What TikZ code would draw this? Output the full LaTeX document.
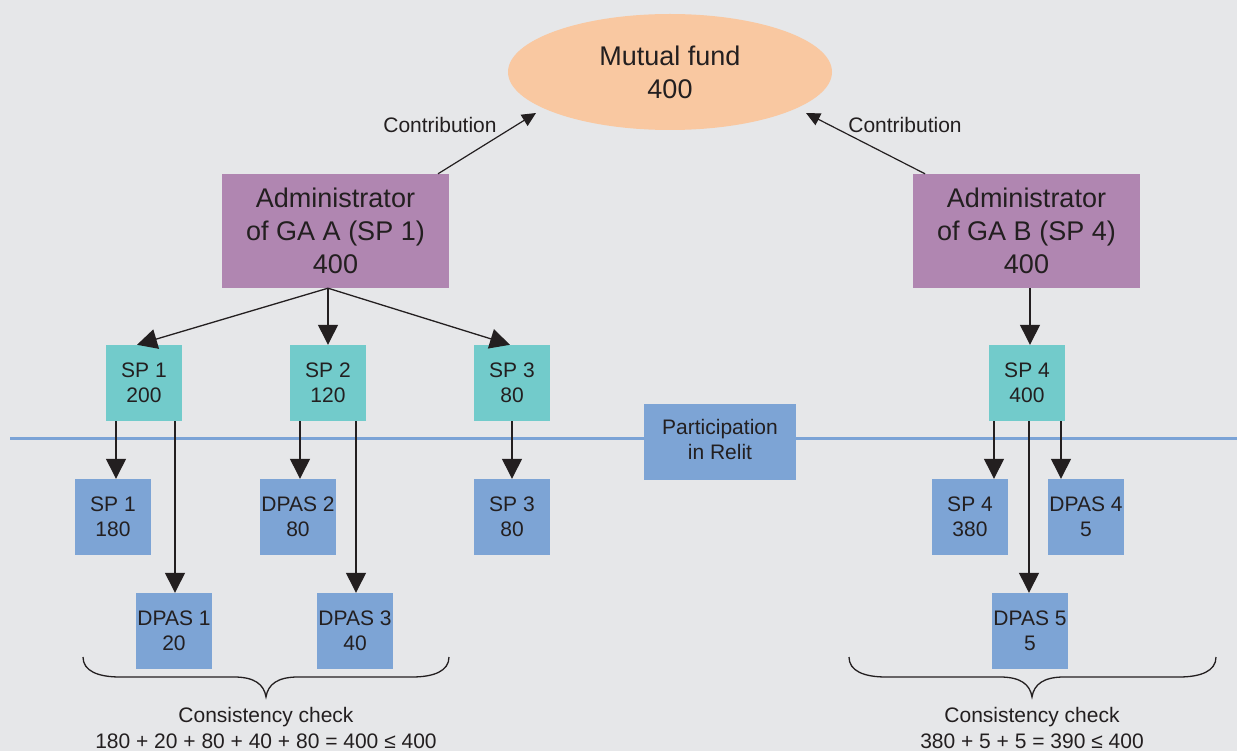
\documentclass[tikz,border=0pt]{standalone}
\usepackage{fontspec}
\setmainfont{Liberation Sans}
\usetikzlibrary{shapes.geometric,arrows.meta,calc}
\definecolor{bg}{HTML}{E6E7E9}
\definecolor{txt}{HTML}{231F20}
\definecolor{peach}{HTML}{F9C8A1}
\definecolor{mauve}{HTML}{B086B1}
\definecolor{tealc}{HTML}{72CBCB}
\definecolor{blueb}{HTML}{7DA4D5}
\definecolor{bline}{HTML}{7BA3D6}
\begin{document}
\begin{tikzpicture}[x=1pt,y=-1pt,
  base/.style={rectangle, inner sep=0pt, align=center, text=txt},
  bigf/.style={font=\fontsize{27}{33}\selectfont},
  smallf/.style={font=\fontsize{21}{25}\selectfont},
  admin/.style={base, bigf, fill=mauve, minimum width=227pt, minimum height=114pt},
  tealbox/.style={base, smallf, fill=tealc, minimum width=76pt, minimum height=76pt},
  bluebox/.style={base, smallf, fill=blueb, minimum width=76pt, minimum height=76pt},
  arr/.style={draw=txt, line width=1.3pt, -{Triangle[length=20pt,width=20pt]}},
  carr/.style={draw=txt, line width=1.2pt, -{Triangle[length=14pt,width=13pt]}},
  lbl/.style={text=txt, font=\fontsize{21}{25}\selectfont, inner sep=0pt},
  chk/.style={text=txt, font=\fontsize{21}{26}\selectfont, inner sep=0pt, align=center},
  brace/.style={draw=txt, line width=1.3pt}
]
\fill[bg] (0,0) rectangle (1237,751);
\useasboundingbox (0,0) rectangle (1237,751);

% separation line
\draw[bline, line width=2.5pt] (10,438.5) -- (1237,438.5);

% top
\node[ellipse, fill=peach, minimum width=324pt, minimum height=116pt, inner sep=0pt,
      align=center, text=txt, bigf] (mf) at (670,72) {Mutual fund\\400};

\node[admin] (adA) at (335.5,231) {Administrator\\of GA A (SP 1)\\400};
\node[admin] (adB) at (1026.5,231) {Administrator\\of GA B (SP 4)\\400};

\coordinate (cA) at (536,113);
\coordinate (cB) at (806,113);
\draw[carr] ($(adA.north)+(102.5,0)$) -- (cA);
\draw[carr] ($(adB.north)+(-101.5,0)$) -- (cB);
\node[lbl] (lA) at (440,125) {Contribution};
\node[lbl] (lB) at (905,125) {Contribution};

% teal boxes
\node[tealbox] (sp1) at (144,383) {SP 1\\200};
\node[tealbox] (sp2) at (328,383) {SP 2\\120};
\node[tealbox] (sp3) at (512,383) {SP 3\\80};
\node[tealbox] (sp4) at (1027,383) {SP 4\\400};

\node[bluebox, minimum width=152pt] (rel) at (720,442) {\raisebox{1.5pt}{\begin{tabular}{@{}c@{}}Participation\\in Relit\end{tabular}}};

% lower boxes
\node[bluebox] (sp1b) at (113,517) {SP 1\\180};
\node[bluebox] (dp2) at (298,517) {DPAS 2\\80};
\node[bluebox] (sp3b) at (512,517) {SP 3\\80};
\node[bluebox] (sp4b) at (970,517) {SP 4\\380};
\node[bluebox] (dp4) at (1086,517) {DPAS 4\\5};
\node[bluebox] (dp1) at (174,631) {DPAS 1\\20};
\node[bluebox] (dp3) at (355,631) {DPAS 3\\40};
\node[bluebox] (dp5) at (1030,631) {DPAS 5\\5};

% arrows from administrators
\coordinate (oA) at ($(adA.south)+(-7.5,0)$);
\coordinate (oB) at ($(adB.south)+(3.5,0)$);
\draw[arr] (oA) -- ($(sp1.north)+(-7,0)$);
\draw[arr] (oA) -- (sp2.north);
\draw[arr] (oA) -- ($(sp3.north)+(-2,0)$);
\draw[arr] (oB) -- (oB |- sp4.north);

% vertical arrows
\coordinate (a1) at ($(sp1.south)+(-28,0)$);
\coordinate (a2) at ($(sp1.south)+(31,0)$);
\coordinate (a3) at ($(sp2.south)+(-28,0)$);
\coordinate (a4) at ($(sp2.south)+(28,0)$);
\coordinate (a5) at (sp3.south);
\coordinate (a6) at ($(sp4.south)+(-33,0)$);
\coordinate (a7) at ($(sp4.south)+(2,0)$);
\coordinate (a8) at ($(sp4.south)+(34,0)$);
\draw[arr] (a1) -- (a1 |- sp1b.north);
\draw[arr] (a2) -- (a2 |- dp1.north);
\draw[arr] (a3) -- (a3 |- dp2.north);
\draw[arr] (a4) -- (a4 |- dp3.north);
\draw[arr] (a5) -- (sp3b.north);
\draw[arr] (a6) -- (a6 |- sp4b.north);
\draw[arr] (a7) -- (a7 |- dp5.north);
\draw[arr] (a8) -- (a8 |- dp4.north);

% braces
\draw[brace] (83,657) .. controls (83,671) and (98,677) .. (120,677) -- (234,677)
  .. controls (254,677) and (264,684) .. (266,697)
  .. controls (268,684) and (278,677) .. (298,677) -- (412,677)
  .. controls (434,677) and (449,671) .. (449,657);
\draw[brace] (849,657) .. controls (849,671) and (864,677) .. (886,677) -- (1000,677)
  .. controls (1020,677) and (1030,684) .. (1032,697)
  .. controls (1034,684) and (1044,677) .. (1064,677) -- (1179,677)
  .. controls (1201,677) and (1216,671) .. (1216,657);

\node[chk] (ck1) at (266,728) {Consistency check\\180 + 20 + 80 + 40 + 80 = 400 ≤ 400};
\node[chk] (ck2) at (1032,728) {Consistency check\\380 + 5 + 5 = 390 ≤ 400};
\end{tikzpicture}
\end{document}
